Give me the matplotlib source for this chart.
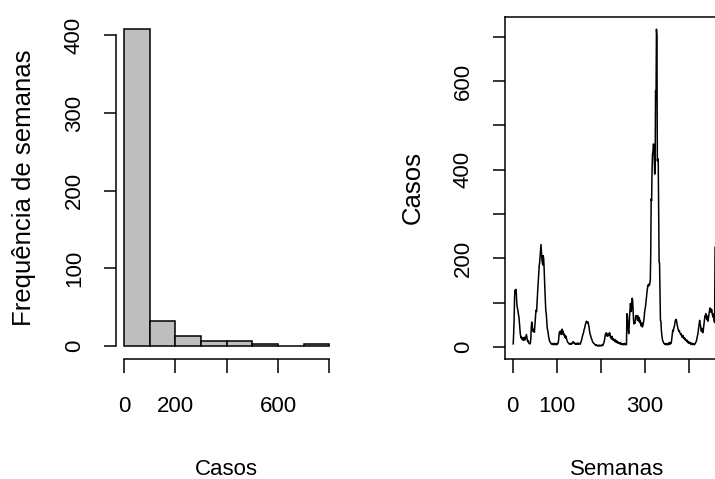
import numpy as np
import matplotlib
matplotlib.use('Agg')
import matplotlib.pyplot as plt

plt.rcParams['font.family'] = ['Liberation Sans', 'DejaVu Sans']
FONTSIZE = 16
YLABEL_SIZE = 18.5

# histogram: weekly cases grouped in bins of 100
bin_edges = [0, 100, 200, 300, 400, 500, 600, 700, 800]
freq = [408, 32, 13, 7, 7, 2, 0, 2]

casos = [
    7, 30, 60, 110, 128, 125, 130, 122, 100, 90,
    86, 80, 72, 68, 55, 40, 30, 24, 20, 22,
    18, 16, 20, 17, 15, 22, 18, 16, 20, 24,
    28, 22, 15, 12, 14, 10, 8, 7, 7, 9,
    20, 45, 56, 52, 38, 35, 37, 40, 33, 45,
    60, 75, 83, 80, 100, 118, 135, 150, 170, 185,
    191, 205, 220, 231, 215, 199, 190, 185, 206, 200,
    180, 150, 125, 100, 80, 75, 60, 45, 38, 34,
    25, 20, 15, 12, 10, 9, 8, 6, 7, 8,
    6, 5, 7, 6, 8, 5, 6, 7, 5, 6,
    8, 7, 10, 15, 28, 34, 30, 36, 34, 28,
    32, 40, 30, 36, 28, 30, 25, 22, 26, 20,
    24, 18, 15, 12, 10, 9, 8, 7, 6, 8,
    7, 6, 8, 7, 9, 10, 12, 10, 8, 9,
    7, 6, 8, 7, 6, 8, 7, 9, 6, 7,
    8, 7, 6, 9, 12, 15, 20, 24, 28, 30,
    35, 40, 42, 48, 52, 55, 58, 56, 54, 57,
    55, 50, 45, 38, 30, 28, 24, 20, 18, 15,
    12, 10, 9, 8, 7, 6, 5, 4, 5, 3,
    4, 3, 2, 3, 4, 2, 3, 4, 3, 2,
    3, 4, 5, 3, 6, 8, 10, 15, 22, 28,
    30, 32, 28, 24, 26, 30, 28, 25, 30, 32,
    26, 22, 20, 18, 24, 20, 16, 15, 18, 14,
    15, 12, 16, 14, 10, 12, 13, 9, 11, 10,
    8, 9, 7, 10, 6, 8, 7, 6, 5, 7,
    6, 5, 8, 6, 5, 7, 6, 5, 75, 70,
    55, 40, 30, 45, 70, 85, 98, 90, 80, 100,
    110, 105, 80, 60, 52, 55, 53, 62, 70, 68,
    71, 65, 60, 70, 62, 58, 66, 55, 60, 52,
    48, 55, 50, 45, 48, 52, 58, 65, 78, 85,
    90, 100, 112, 120, 128, 135, 140, 138, 142, 139,
    145, 150, 210, 334, 330, 400, 435, 440, 458, 455,
    428, 390, 420, 578, 560, 717, 700, 420, 425, 420,
    300, 191, 190, 120, 60, 58, 40, 28, 20, 15,
    12, 10, 8, 7, 6, 7, 5, 8, 6, 5,
    7, 6, 5, 8, 10, 7, 6, 9, 8, 12,
    20, 30, 38, 35, 40, 45, 48, 55, 60, 58,
    62, 56, 50, 45, 40, 38, 35, 37, 32, 30,
    28, 30, 25, 22, 24, 26, 20, 22, 18, 20,
    16, 18, 15, 14, 12, 15, 10, 12, 9, 11,
    8, 10, 7, 9, 6, 8, 7, 5, 8, 6,
    7, 5, 6, 8, 10, 12, 15, 20, 25, 30,
    38, 45, 55, 60, 52, 48, 40, 35, 42, 38,
    32, 36, 45, 55, 65, 70, 68, 75, 72, 62,
    70, 60, 58, 66, 72, 80, 86, 88, 82, 78,
    85, 80, 72, 68, 75, 62, 58, 55, 225,
]
n_semanas = 471  # total weeks in the series (panel is cut at the right edge)
semanas = np.arange(1, len(casos) + 1)

fig = plt.figure(figsize=(7.15, 4.79), dpi=100)

# ---- histogram ----
ax1 = fig.add_axes([0.162, 0.2511, 0.310, 0.7144])
ax1.bar(bin_edges[:-1], freq, width=np.diff(bin_edges), align='edge',
        color='#bebebe', edgecolor='black', linewidth=1.1)
pad_x = 0.04 * (bin_edges[-1] - bin_edges[0])
ax1.set_xlim(bin_edges[0] - pad_x, bin_edges[-1] + pad_x)
ax1.set_ylim(-0.04 * max(freq), 1.04 * max(freq))
for s in ['top', 'right']:
    ax1.spines[s].set_visible(False)
ax1.spines['left'].set_bounds(0, 400)
ax1.spines['bottom'].set_bounds(0, 800)
ax1.set_xticks([0, 200, 400, 600, 800])
ax1.set_xticklabels(['0', '200', '', '600', ''])
ax1.set_yticks([0, 100, 200, 300, 400])
ax1.set_yticklabels(['0', '100', '200', '300', '400'])
ax1.set_xlabel('Casos', fontsize=FONTSIZE, labelpad=30)
ax1.set_ylabel('Frequência de semanas', fontsize=YLABEL_SIZE, labelpad=20)

# ---- time series ----
ax2 = fig.add_axes([0.7062, 0.2511, 0.3129, 0.7144])
ax2.plot(semanas, casos, color='black', linewidth=1.1)
pad_w = 0.04 * (n_semanas - 1)
ax2.set_xlim(1 - pad_w, n_semanas + pad_w)
rng = max(casos) - min(casos)
ax2.set_ylim(min(casos) - 0.04 * rng, max(casos) + 0.04 * rng)
ax2.set_xticks([0, 100, 200, 300, 400])
ax2.set_xticklabels(['0', '100', '', '300', ''])
ax2.set_yticks([0, 100, 200, 300, 400, 500, 600, 700])
ax2.set_yticklabels(['0', '', '200', '', '400', '', '600', ''])
ax2.set_xlabel('Semanas', fontsize=FONTSIZE, labelpad=30)
ax2.set_ylabel('Casos', fontsize=YLABEL_SIZE, labelpad=20)

for ax in (ax1, ax2):
    ax.tick_params(axis='x', length=10, width=1.1, direction='out',
                   labelsize=FONTSIZE, pad=17)
    ax.tick_params(axis='y', length=8.6, width=1.1, direction='out',
                   labelsize=FONTSIZE, pad=13.7, labelrotation=90)
    for lab in ax.get_yticklabels():
        lab.set_va('center')
    for s in ax.spines.values():
        s.set_linewidth(1.1)

fig.savefig('out.png', dpi=100)
